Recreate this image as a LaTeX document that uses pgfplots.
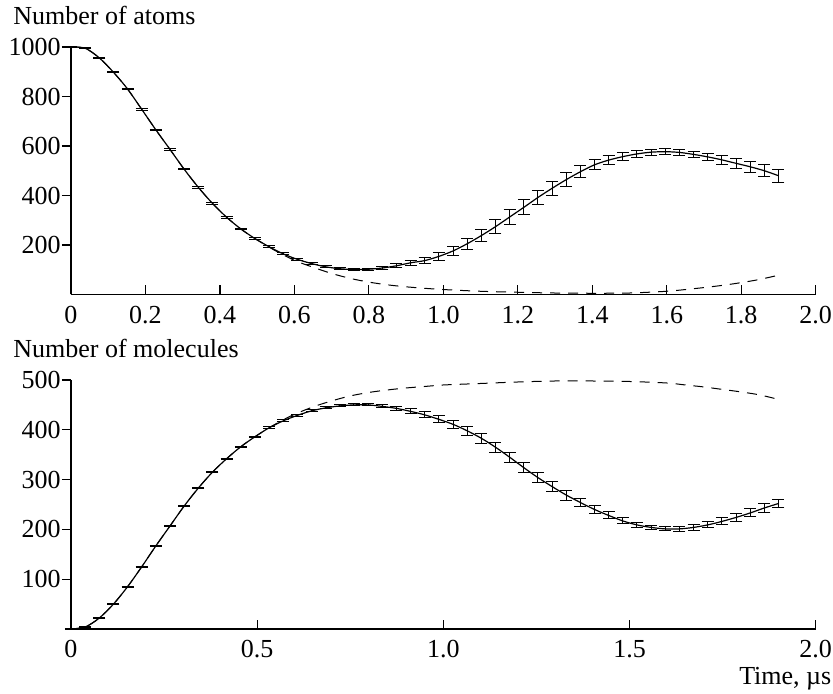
\documentclass[border=0pt]{standalone}
\usepackage{fontspec}
\setmainfont{Liberation Serif}
\usepackage{pgfplots}
\pgfplotsset{compat=1.18}
\usepackage{pgfplotstable}

% atoms: mean and error
\pgfplotstableread{
x y e
0.000 1000 2
0.038 995 2
0.076 956 2
0.114 898 3
0.152 830 3
0.190 748 3
0.228 665 3
0.266 586 3
0.304 506 3
0.342 433 3
0.380 368 3
0.418 312 3
0.456 265 3
0.494 226 3
0.532 193 4
0.570 164 4
0.608 142 4
0.646 125 4
0.684 112 4
0.722 104 4
0.760 101 5
0.798 102 5
0.836 107 6
0.874 116 8
0.912 128 10
0.950 137 13
0.988 154 16
1.026 176 19
1.064 205 22
1.102 238 25
1.140 274 28
1.178 313 30
1.216 352 30
1.254 392 30
1.292 429 29
1.330 464 27
1.368 496 24
1.406 524 21
1.444 543 18
1.482 557 15
1.520 568 13
1.558 575 12
1.596 577 12
1.634 574 12
1.672 566 13
1.710 556 15
1.748 544 17
1.786 530 19
1.824 516 22
1.862 500 24
1.900 480 27
}\atoms

\pgfplotstableread{
x y
0.000 1000
0.038 995
0.076 956
0.114 898
0.152 830
0.190 748
0.228 665
0.266 586
0.304 506
0.342 433
0.380 368
0.418 312
0.456 265
0.494 226
0.550 176
0.600 138
0.650 110
0.700 85
0.750 65
0.800 50
0.850 39
0.900 31
0.950 25
1.000 20
1.100 13
1.200 9
1.300 6
1.400 5
1.500 6
1.600 13
1.650 20
1.700 28
1.750 37
1.800 48
1.850 61
1.900 78
}\atomsdash

% molecules: mean and error
\pgfplotstableread{
x y e
0.000 0 1
0.038 4 1
0.076 22 1
0.114 50 1
0.152 85 1
0.190 125 1
0.228 167 1
0.266 207 1
0.304 247 1
0.342 283 1
0.380 315 1
0.418 342 1
0.456 366 1
0.494 386 1
0.532 404 2
0.570 418 2
0.608 429 2
0.646 438 2
0.684 444 2
0.722 448 2
0.760 450 2
0.798 450 2
0.836 447 3
0.874 443 4
0.912 437 5
0.950 430 6
0.988 421 7
1.026 411 8
1.064 398 9
1.102 383 10
1.140 365 10
1.178 345 10
1.216 324 10
1.254 304 10
1.292 286 10
1.330 269 10
1.368 254 9
1.406 240 8
1.444 228 7
1.482 217 6
1.520 209 5
1.558 204 4
1.596 201 4
1.634 201 5
1.672 204 6
1.710 209 6
1.748 216 7
1.786 224 8
1.824 233 8
1.862 243 9
1.900 252 9
}\molec

\pgfplotstableread{
x y
0.000 0
0.038 4
0.076 22
0.114 50
0.152 85
0.190 125
0.228 167
0.266 207
0.304 247
0.342 283
0.380 315
0.418 342
0.456 366
0.494 386
0.532 404
0.570 420
0.600 431
0.650 446
0.700 458
0.750 468
0.800 475
0.850 480
0.900 484
0.950 487
1.000 490
1.100 493
1.200 496
1.300 498
1.400 498
1.500 497
1.600 494
1.650 490
1.700 486
1.750 481
1.800 476
1.850 470
1.900 461
}\molecdash

\begin{document}
\fontsize{13}{15}\selectfont
\begin{tikzpicture}
\pgfplotsset{
  every axis/.append style={
    scale only axis, width=372.35pt,
    xmin=0, xmax=2, ymin=0, clip=false,
    axis lines*=left,
    axis line style={line width=0.65pt},
    xtick align=inside, ytick align=outside,
    major tick length=4.5pt,
    tick style={black, line width=0.6pt},
    /pgf/number format/assume math mode=true,
    /pgf/number format/1000 sep={},
    yticklabel style={inner sep=0pt, xshift=-0.5pt},
    xticklabel style={inner sep=0pt, yshift=-5.5pt},
  },
  meas/.style={black, line width=0.6pt, smooth,
    error bars/.cd, y dir=both, y explicit,
    error bar style={line width=0.5pt},
    error mark options={rotate=90, black, mark size=3pt, line width=0.5pt}},
  theo/.style={black, line width=0.5pt, dash pattern=on 5pt off 4pt, smooth},
}
\begin{axis}[
  name=top, height=123.75pt, ymax=1000,
  ytick={200,400,600,800,1000},
  xtick={0,0.2,0.4,0.6,0.8,1.0,1.2,1.4,1.6,1.8,2.0},
  xticklabels={0,0.2,0.4,0.6,0.8,1.0,1.2,1.4,1.6,1.8,2.0},
]
\addplot[theo] table[x=x, y=y] {\atomsdash};
\addplot[meas] table[x=x, y=y, y error=e] {\atoms};
\node[anchor=base west, inner sep=0, xshift=-29pt, yshift=11pt] at (rel axis cs:0,1) {Number of atoms};
\end{axis}
\begin{axis}[
  at={(0,-42.75pt)}, anchor=north west,
  height=124.5pt, ymax=500,
  ytick={100,200,300,400,500},
  xtick={0,0.5,1.0,1.5,2.0},
  xticklabels={0,0.5,1.0,1.5,2.0},
]
\addplot[theo] table[x=x, y=y] {\molecdash};
\addplot[meas] table[x=x, y=y, y error=e] {\molec};
\node[anchor=base west, inner sep=0, xshift=-29pt, yshift=11pt] at (rel axis cs:0,1) {Number of molecules};
\node[anchor=base east, inner sep=0, xshift=8pt, yshift=-28pt] at (rel axis cs:1,0) {Time, µs};
\end{axis}
\path (-35.5pt,-199.75pt) rectangle (381pt,147.25pt);
\end{tikzpicture}
\end{document}
